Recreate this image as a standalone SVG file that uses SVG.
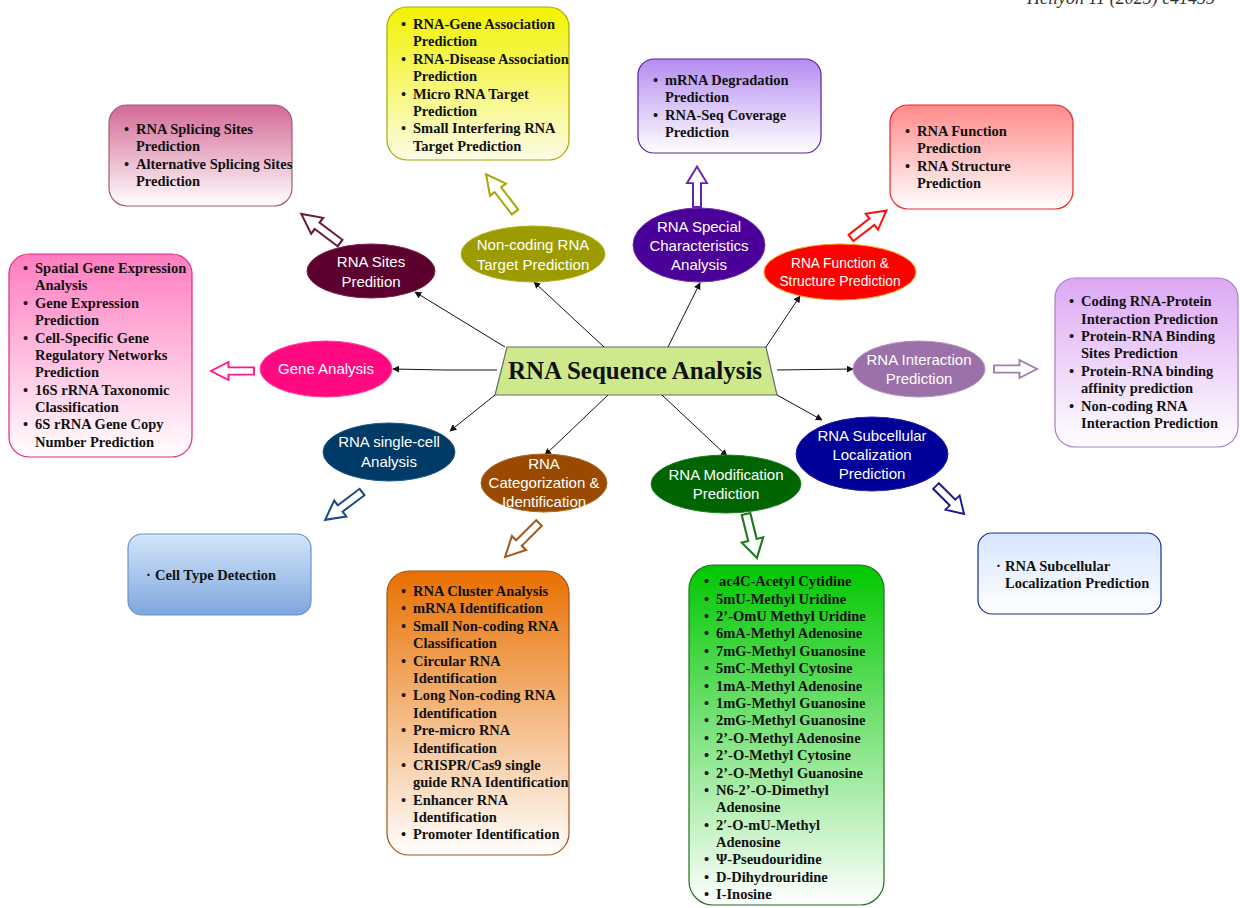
<svg xmlns="http://www.w3.org/2000/svg" xmlns:xlink="http://www.w3.org/1999/xlink" width="1240" height="908" viewBox="0 0 1240 908">
<style>
.t{font-family:"Liberation Serif","Times New Roman",serif;font-weight:bold;font-size:14.5px;fill:#111}
.e{font-family:"Liberation Sans",Arial,sans-serif;font-size:15px;fill:#fff;text-anchor:middle}
.conn{stroke:#111;stroke-width:1;fill:none;marker-end:url(#ah)}
.ba{fill:#fff;stroke-width:2}
.box{stroke-width:1.2}
</style>
<defs>
<marker id="ah" viewBox="0 0 10 10" refX="9" refY="5" markerWidth="7" markerHeight="7" markerUnits="userSpaceOnUse" orient="auto"><path d="M0,0 L10,5 L0,10 z" fill="#111"/></marker>
<polygon id="barrow" points="0,-4 26,-4 26,-10 44,0 26,10 26,4 0,4"/>
<linearGradient id="gSplice" x1="0" y1="0" x2="0" y2="1"><stop offset="0" stop-color="#d46896"/><stop offset="1" stop-color="#ffffff"/></linearGradient>
<linearGradient id="gYellow" x1="0" y1="0" x2="0" y2="1"><stop offset="0" stop-color="#f2f200"/><stop offset="1" stop-color="#fcfce4"/></linearGradient>
<linearGradient id="gPurple" x1="0" y1="0" x2="0" y2="1"><stop offset="0" stop-color="#b48cf0"/><stop offset="1" stop-color="#ffffff"/></linearGradient>
<linearGradient id="gRed" x1="0" y1="0" x2="0" y2="1"><stop offset="0" stop-color="#ff8a8a"/><stop offset="1" stop-color="#ffffff"/></linearGradient>
<linearGradient id="gPink" x1="0" y1="0" x2="0" y2="1"><stop offset="0" stop-color="#ff7cc0"/><stop offset="1" stop-color="#ffffff"/></linearGradient>
<linearGradient id="gLav" x1="0" y1="0" x2="0" y2="1"><stop offset="0" stop-color="#dca8f4"/><stop offset="1" stop-color="#ffffff"/></linearGradient>
<linearGradient id="gBlue" x1="0" y1="0" x2="0" y2="1"><stop offset="0" stop-color="#d4e6fa"/><stop offset="1" stop-color="#7ea6de"/></linearGradient>
<linearGradient id="gOrange" x1="0" y1="0" x2="0" y2="1"><stop offset="0" stop-color="#e87000"/><stop offset="1" stop-color="#ffffff"/></linearGradient>
<linearGradient id="gGreen" x1="0" y1="0" x2="0" y2="1"><stop offset="0" stop-color="#00c800"/><stop offset="1" stop-color="#ffffff"/></linearGradient>
<linearGradient id="gSub" x1="0" y1="0" x2="0" y2="1"><stop offset="0" stop-color="#d6e6ff"/><stop offset="1" stop-color="#ffffff"/></linearGradient>
</defs>

<text x="1027" y="4" font-family="'Liberation Serif',serif" font-style="italic" font-size="18" fill="#333">Heliyon 11 (2025) e41455</text>

<!-- central node -->
<g id="center">
<polygon points="507,347 766,347 777,395 495,395" fill="#cde98b" stroke="#6a6a6a" stroke-width="1.2"/>
<text x="635" y="379" text-anchor="middle" font-family="'Liberation Serif','Times New Roman',serif" font-weight="bold" font-size="25" fill="#111">RNA Sequence Analysis</text>
</g>

<!-- connectors -->
<g id="connectors">
<line class="conn" x1="505" y1="347" x2="415" y2="292"/>
<line class="conn" x1="604" y1="347" x2="534" y2="282"/>
<line class="conn" x1="668" y1="347" x2="700" y2="283"/>
<line class="conn" x1="766" y1="347" x2="800" y2="296"/>
<polyline class="conn" points="497,370 445,370 393,369"/>
<line class="conn" x1="777" y1="370" x2="853" y2="369"/>
<line class="conn" x1="495" y1="395" x2="450" y2="431"/>
<line class="conn" x1="608" y1="395" x2="545" y2="455"/>
<line class="conn" x1="662" y1="395" x2="727" y2="456"/>
<line class="conn" x1="777" y1="395" x2="822" y2="420"/>
</g>

<!-- block arrows -->
<g id="block-arrows">
<use xlink:href="#barrow" class="ba" stroke="#6a1a3a" transform="translate(340,243) rotate(-143.1) scale(1.1,1)"/>
<use xlink:href="#barrow" class="ba" stroke="#a8a800" transform="translate(515,212) rotate(-127.4) scale(1.08,1)"/>
<use xlink:href="#barrow" class="ba" stroke="#6a20b0" transform="translate(697,207) rotate(-90) scale(0.92,1)"/>
<use xlink:href="#barrow" class="ba" stroke="#ff1010" transform="translate(851,238) rotate(-37.9) scale(1.02,1)"/>
<use xlink:href="#barrow" class="ba" stroke="#ff1a8c" transform="translate(254,371) rotate(180) scale(0.98,0.9)"/>
<use xlink:href="#barrow" class="ba" stroke="#a080b0" transform="translate(994,369) rotate(0) scale(0.98,0.9)"/>
<use xlink:href="#barrow" class="ba" stroke="#1a4a80" transform="translate(362,492) rotate(142.9) scale(1.05,1)"/>
<use xlink:href="#barrow" class="ba" stroke="#a05a20" transform="translate(539,523) rotate(135) scale(1.09,1)"/>
<use xlink:href="#barrow" class="ba" stroke="#207a20" transform="translate(746,514) rotate(76) scale(1.03,1.1)"/>
<use xlink:href="#barrow" class="ba" stroke="#1a1a90" transform="translate(936,486) rotate(45) scale(0.9,1)"/>
</g>

<!-- ellipses -->
<g id="n-sites">
<ellipse cx="371" cy="271" rx="64" ry="27" fill="#5c0030" stroke="#7a2048"/>
<text class="e" x="371" y="267">RNA Sites</text>
<text class="e" x="371" y="287">Predition</text>
</g>
<g id="n-noncoding">
<ellipse cx="533" cy="254" rx="72" ry="28" fill="#9c9c00" stroke="#b0b020"/>
<text class="e" x="533" y="250">Non-coding RNA</text>
<text class="e" x="533" y="270">Target Prediction</text>
</g>
<g id="n-special">
<ellipse cx="699" cy="245" rx="66" ry="37" fill="#4a0098" stroke="#6a30b0"/>
<text class="e" x="699" y="232">RNA Special</text>
<text class="e" x="699" y="251">Characteristics</text>
<text class="e" x="699" y="270">Analysis</text>
</g>
<g id="n-function">
<ellipse cx="840" cy="272" rx="76" ry="28" fill="#ff0000" stroke="#ff9a00"/>
<text class="e" x="840" y="268" style="font-size:13.8px">RNA Function &amp;</text>
<text class="e" x="840" y="286" style="font-size:13.8px">Structure Prediction</text>
</g>
<g id="n-gene">
<ellipse cx="326" cy="369" rx="66" ry="28" fill="#ff0a80" stroke="#ff3c9c"/>
<text class="e" x="326" y="374">Gene Analysis</text>
</g>
<g id="n-interaction">
<ellipse cx="919" cy="369" rx="66" ry="28" fill="#9c70a8" stroke="#b090c0"/>
<text class="e" x="919" y="365">RNA Interaction</text>
<text class="e" x="919" y="384">Prediction</text>
</g>
<g id="n-singlecell">
<ellipse cx="389" cy="452" rx="66" ry="29" fill="#003a66" stroke="#205a88"/>
<text class="e" x="389" y="447">RNA single-cell</text>
<text class="e" x="389" y="467">Analysis</text>
</g>
<g id="n-categorization">
<ellipse cx="544" cy="483" rx="63" ry="29" fill="#9a4a00" stroke="#b06a20"/>
<text class="e" x="544" y="469">RNA</text>
<text class="e" x="544" y="488">Categorization &amp;</text>
<text class="e" x="544" y="507">Identification</text>
</g>
<g id="n-modification">
<ellipse cx="726" cy="484" rx="75" ry="29" fill="#006400" stroke="#208020"/>
<text class="e" x="726" y="480">RNA Modification</text>
<text class="e" x="726" y="499">Prediction</text>
</g>
<g id="n-subcellular">
<ellipse cx="872" cy="454" rx="76" ry="37" fill="#000098" stroke="#2020b0"/>
<text class="e" x="872" y="441">RNA Subcellular</text>
<text class="e" x="872" y="460">Localization</text>
<text class="e" x="872" y="479">Prediction</text>
</g>

<!-- boxes -->
<g id="b-splicing">
<rect class="box" x="109" y="105" width="183" height="101" rx="18" fill="url(#gSplice)" stroke="#a05a7a"/>
<text class="t" y="134"><tspan x="124">•</tspan><tspan x="136">RNA Splicing Sites</tspan></text>
<text class="t" x="136" y="151">Prediction</text>
<text class="t" y="169"><tspan x="124">•</tspan><tspan x="136">Alternative Splicing Sites</tspan></text>
<text class="t" x="136" y="186">Prediction</text>
</g>

<g id="b-noncoding">
<rect class="box" x="387" y="7" width="182" height="153" rx="20" fill="url(#gYellow)" stroke="#a8a800"/>
<text class="t" y="29"><tspan x="401">•</tspan><tspan x="413">RNA-Gene Association</tspan></text>
<text class="t" x="413" y="46">Prediction</text>
<text class="t" y="64"><tspan x="401">•</tspan><tspan x="413">RNA-Disease Association</tspan></text>
<text class="t" x="413" y="81">Prediction</text>
<text class="t" y="99"><tspan x="401">•</tspan><tspan x="413">Micro RNA Target</tspan></text>
<text class="t" x="413" y="116">Prediction</text>
<text class="t" y="133"><tspan x="401">•</tspan><tspan x="413">Small Interfering RNA</tspan></text>
<text class="t" x="413" y="151">Target Prediction</text>
</g>

<g id="b-special">
<rect class="box" x="638" y="59" width="183" height="94" rx="16" fill="url(#gPurple)" stroke="#5a20a0"/>
<text class="t" y="85"><tspan x="653">•</tspan><tspan x="665">mRNA Degradation</tspan></text>
<text class="t" x="665" y="102">Prediction</text>
<text class="t" y="120"><tspan x="653">•</tspan><tspan x="665">RNA-Seq Coverage</tspan></text>
<text class="t" x="665" y="137">Prediction</text>
</g>

<g id="b-function">
<rect class="box" x="890" y="105" width="183" height="104" rx="18" fill="url(#gRed)" stroke="#e82828"/>
<text class="t" y="136"><tspan x="905">•</tspan><tspan x="917">RNA Function</tspan></text>
<text class="t" x="917" y="153">Prediction</text>
<text class="t" y="171"><tspan x="905">•</tspan><tspan x="917">RNA Structure</tspan></text>
<text class="t" x="917" y="188">Prediction</text>
</g>

<g id="b-gene">
<rect class="box" x="9" y="254" width="183" height="203" rx="20" fill="url(#gPink)" stroke="#e0287e"/>
<text class="t" y="273"><tspan x="23">•</tspan><tspan x="35">Spatial Gene Expression</tspan></text>
<text class="t" x="35" y="290">Analysis</text>
<text class="t" y="308"><tspan x="23">•</tspan><tspan x="35">Gene Expression</tspan></text>
<text class="t" x="35" y="325">Prediction</text>
<text class="t" y="343"><tspan x="23">•</tspan><tspan x="35">Cell-Specific Gene</tspan></text>
<text class="t" x="35" y="360">Regulatory Networks</text>
<text class="t" x="35" y="377">Prediction</text>
<text class="t" y="395"><tspan x="23">•</tspan><tspan x="35">16S rRNA Taxonomic</tspan></text>
<text class="t" x="35" y="412">Classification</text>
<text class="t" y="429"><tspan x="23">•</tspan><tspan x="35">6S rRNA Gene Copy</tspan></text>
<text class="t" x="35" y="447">Number Prediction</text>
</g>

<g id="b-interaction">
<rect class="box" x="1055" y="278" width="183" height="169" rx="20" fill="url(#gLav)" stroke="#a87cc4"/>
<text class="t" y="306"><tspan x="1069">•</tspan><tspan x="1081">Coding RNA-Protein</tspan></text>
<text class="t" x="1081" y="324">Interaction Prediction</text>
<text class="t" y="341"><tspan x="1069">•</tspan><tspan x="1081">Protein-RNA Binding</tspan></text>
<text class="t" x="1081" y="358">Sites Prediction</text>
<text class="t" y="376"><tspan x="1069">•</tspan><tspan x="1081">Protein-RNA binding</tspan></text>
<text class="t" x="1081" y="393">affinity prediction</text>
<text class="t" y="411"><tspan x="1069">•</tspan><tspan x="1081">Non-coding RNA</tspan></text>
<text class="t" x="1081" y="428">Interaction Prediction</text>
</g>

<g id="b-singlecell">
<rect class="box" x="128" y="534" width="183" height="81" rx="14" fill="url(#gBlue)" stroke="#7092c4"/>
<text class="t" y="580"><tspan x="146">·</tspan><tspan x="155">Cell Type Detection</tspan></text>
</g>

<g id="b-categorization">
<rect class="box" x="387" y="571" width="182" height="284" rx="22" fill="url(#gOrange)" stroke="#a05418"/>
<text class="t" y="596"><tspan x="401">•</tspan><tspan x="413">RNA Cluster Analysis</tspan></text>
<text class="t" y="613"><tspan x="401">•</tspan><tspan x="413">mRNA Identification</tspan></text>
<text class="t" y="631"><tspan x="401">•</tspan><tspan x="413">Small Non-coding RNA</tspan></text>
<text class="t" x="413" y="648">Classification</text>
<text class="t" y="666"><tspan x="401">•</tspan><tspan x="413">Circular RNA</tspan></text>
<text class="t" x="413" y="683">Identification</text>
<text class="t" y="700"><tspan x="401">•</tspan><tspan x="413">Long Non-coding RNA</tspan></text>
<text class="t" x="413" y="718">Identification</text>
<text class="t" y="735"><tspan x="401">•</tspan><tspan x="413">Pre-micro RNA</tspan></text>
<text class="t" x="413" y="753">Identification</text>
<text class="t" y="770"><tspan x="401">•</tspan><tspan x="413">CRISPR/Cas9 single</tspan></text>
<text class="t" x="413" y="787">guide RNA Identification</text>
<text class="t" y="805"><tspan x="401">•</tspan><tspan x="413">Enhancer RNA</tspan></text>
<text class="t" x="413" y="822">Identification</text>
<text class="t" y="839"><tspan x="401">•</tspan><tspan x="413">Promoter Identification</tspan></text>
</g>

<g id="b-modification">
<rect class="box" x="689" y="565" width="195" height="340" rx="24" fill="url(#gGreen)" stroke="#207020"/>
<text class="t" y="586"><tspan x="704">•</tspan><tspan x="719">ac4C-Acetyl Cytidine</tspan></text>
<text class="t" y="604"><tspan x="704">•</tspan><tspan x="716">5mU-Methyl Uridine</tspan></text>
<text class="t" y="621"><tspan x="704">•</tspan><tspan x="716">2’-OmU Methyl Uridine</tspan></text>
<text class="t" y="638"><tspan x="704">•</tspan><tspan x="716">6mA-Methyl Adenosine</tspan></text>
<text class="t" y="656"><tspan x="704">•</tspan><tspan x="716">7mG-Methyl Guanosine</tspan></text>
<text class="t" y="673"><tspan x="704">•</tspan><tspan x="716">5mC-Methyl Cytosine</tspan></text>
<text class="t" y="691"><tspan x="704">•</tspan><tspan x="716">1mA-Methyl Adenosine</tspan></text>
<text class="t" y="708"><tspan x="704">•</tspan><tspan x="716">1mG-Methyl Guanosine</tspan></text>
<text class="t" y="725"><tspan x="704">•</tspan><tspan x="716">2mG-Methyl Guanosine</tspan></text>
<text class="t" y="743"><tspan x="704">•</tspan><tspan x="716">2’-O-Methyl Adenosine</tspan></text>
<text class="t" y="760"><tspan x="704">•</tspan><tspan x="716">2’-O-Methyl Cytosine</tspan></text>
<text class="t" y="778"><tspan x="704">•</tspan><tspan x="716">2’-O-Methyl Guanosine</tspan></text>
<text class="t" y="795"><tspan x="704">•</tspan><tspan x="716">N6-2’-O-Dimethyl</tspan></text>
<text class="t" x="716" y="812">Adenosine</text>
<text class="t" y="830"><tspan x="704">•</tspan><tspan x="716">2′-O-mU-Methyl</tspan></text>
<text class="t" x="716" y="847">Adenosine</text>
<text class="t" y="864"><tspan x="704">•</tspan><tspan x="716">Ψ-Pseudouridine</tspan></text>
<text class="t" y="882"><tspan x="704">•</tspan><tspan x="716">D-Dihydrouridine</tspan></text>
<text class="t" y="899"><tspan x="704">•</tspan><tspan x="716">I-Inosine</tspan></text>
</g>

<g id="b-subcellular">
<rect class="box" x="978" y="533" width="183" height="81" rx="14" fill="url(#gSub)" stroke="#1a2a9a"/>
<text class="t" y="571"><tspan x="996">·</tspan><tspan x="1005">RNA Subcellular</tspan></text>
<text class="t" x="1005" y="588">Localization Prediction</text>
</g>
</svg>
